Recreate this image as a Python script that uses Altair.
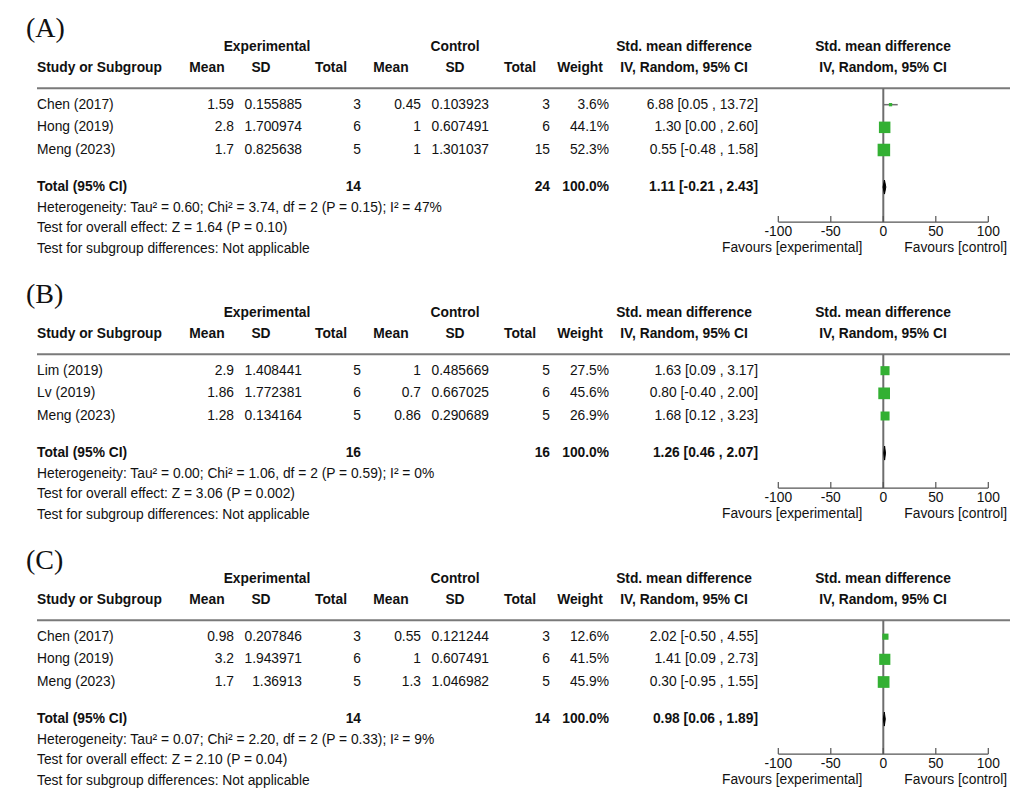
import altair as alt
import pandas as pd

# ---------------- data ----------------
panel_labels = ["(A)", "(B)", "(C)"]

studies = [
    ["Chen (2017)", "Hong (2019)", "Meng (2023)"],
    ["Lim (2019)", "Lv (2019)", "Meng (2023)"],
    ["Chen (2017)", "Hong (2019)", "Meng (2023)"],
]
exp_mean = [[1.59, 2.8, 1.7], [2.9, 1.86, 1.28], [0.98, 3.2, 1.7]]
exp_sd = [[0.155885, 1.700974, 0.825638], [1.408441, 1.772381, 0.134164], [0.207846, 1.943971, 1.36913]]
exp_n = [[3, 6, 5], [5, 6, 5], [3, 6, 5]]
ctl_mean = [[0.45, 1, 1], [1, 0.7, 0.86], [0.55, 1, 1.3]]
ctl_sd = [[0.103923, 0.607491, 1.301037], [0.485669, 0.667025, 0.290689], [0.121244, 0.607491, 1.046982]]
ctl_n = [[3, 6, 15], [5, 6, 5], [3, 6, 5]]
weight = [[3.6, 44.1, 52.3], [27.5, 45.6, 26.9], [12.6, 41.5, 45.9]]
smd = [[6.88, 1.30, 0.55], [1.63, 0.80, 1.68], [2.02, 1.41, 0.30]]
smd_lo = [[0.05, 0.00, -0.48], [0.09, -0.40, 0.12], [-0.50, 0.09, -0.95]]
smd_hi = [[13.72, 2.60, 1.58], [3.17, 2.00, 3.23], [4.55, 2.73, 1.55]]

tot_exp_n = [14, 16, 14]
tot_ctl_n = [24, 16, 14]
tot_smd = [1.11, 1.26, 0.98]
tot_lo = [-0.21, 0.46, 0.06]
tot_hi = [2.43, 2.07, 1.89]
heterogeneity = [
    "Heterogeneity: Tau\u00b2 = 0.60; Chi\u00b2 = 3.74, df = 2 (P = 0.15); I\u00b2 = 47%",
    "Heterogeneity: Tau\u00b2 = 0.00; Chi\u00b2 = 1.06, df = 2 (P = 0.59); I\u00b2 = 0%",
    "Heterogeneity: Tau\u00b2 = 0.07; Chi\u00b2 = 2.20, df = 2 (P = 0.33); I\u00b2 = 9%",
]
overall = [
    "Test for overall effect: Z = 1.64 (P = 0.10)",
    "Test for overall effect: Z = 3.06 (P = 0.002)",
    "Test for overall effect: Z = 2.10 (P = 0.04)",
]
subgroup_txt = "Test for subgroup differences: Not applicable"
axis_ticks = [-100, -50, 0, 50, 100]

# ---------------- layout / style ----------------
FONT = "Liberation Sans"
FS = 13.8
TXT = "#111111"
GREEN = "#33b033"
U = 20.6                      # px per table row unit
YMIN = -1.893
PANEL_H = 246
YMAX = YMIN + PANEL_H / U
W = 1003

yscale = alt.Scale(domain=[YMIN, YMAX], reverse=True, nice=False, zero=False)
xscale = alt.Scale(domain=[-100, 100], range=[770.3, 980.3], nice=False, zero=False)

STUDY_ROWS = [2.8, 3.9, 5.0]
ROW_G, ROW_H, ROW_LINE, ROW_TOT = 0, 1, 2, 6.8
ROW_FOOT = [7.8, 8.8, 9.8]
ROW_AXIS, ROW_TICKLAB, ROW_FAV = 8.5, 9.0, 9.76


def fmt(v):
    return str(v)


def ci(e, lo, hi):
    return f"{e:.2f} [{lo:.2f} , {hi:.2f}]"


def txt_layer(rows, texts, x, align="left", bold=False, font=FONT, size=FS):
    df = pd.DataFrame({"row": rows, "t": texts})
    return alt.Chart(df).mark_text(
        align=align, baseline="middle", font=font, fontSize=size,
        fontWeight="bold" if bold else "normal", color=TXT
    ).encode(
        x=alt.value(x),
        y=alt.Y("row:Q", scale=yscale, axis=None),
        text="t:N",
    )


def make_panel(i):
    L = []
    # panel label
    L.append(txt_layer([-0.85], [panel_labels[i]], 18, "left",
                       font="Liberation Serif", size=28))
    # group headers
    L.append(txt_layer([ROW_G], ["Experimental"], 259, "center", True))
    L.append(txt_layer([ROW_G], ["Control"], 447, "center", True))
    L.append(txt_layer([ROW_G], ["Std. mean difference"], 676, "center", True))
    L.append(txt_layer([ROW_G], ["Std. mean difference"], 875, "center", True))
    # column headers
    L.append(txt_layer([ROW_H], ["Study or Subgroup"], 29, "left", True))
    for lab, x in [("Mean", 199), ("SD", 253), ("Total", 323), ("Mean", 383),
                   ("SD", 447), ("Total", 512), ("Weight", 572),
                   ("IV, Random, 95% CI", 676), ("IV, Random, 95% CI", 875)]:
        L.append(txt_layer([ROW_H], [lab], x, "center", True))
    # header rule
    L.append(alt.Chart(pd.DataFrame({"row": [ROW_LINE]})).mark_rule(
        color="#7a7a7a", strokeWidth=2).encode(
        x=alt.value(29), x2=alt.value(1002),
        y=alt.Y("row:Q", scale=yscale, axis=None)))
    # study rows
    L.append(txt_layer(STUDY_ROWS, studies[i], 29, "left"))
    L.append(txt_layer(STUDY_ROWS, [fmt(v) for v in exp_mean[i]], 226, "right"))
    L.append(txt_layer(STUDY_ROWS, [fmt(v) for v in exp_sd[i]], 294, "right"))
    L.append(txt_layer(STUDY_ROWS, [fmt(v) for v in exp_n[i]], 353, "right"))
    L.append(txt_layer(STUDY_ROWS, [fmt(v) for v in ctl_mean[i]], 413, "right"))
    L.append(txt_layer(STUDY_ROWS, [fmt(v) for v in ctl_sd[i]], 481, "right"))
    L.append(txt_layer(STUDY_ROWS, [fmt(v) for v in ctl_n[i]], 542, "right"))
    L.append(txt_layer(STUDY_ROWS, [f"{w:.1f}%" for w in weight[i]], 601, "right"))
    L.append(txt_layer(STUDY_ROWS, [ci(e, lo, hi) for e, lo, hi in
                                    zip(smd[i], smd_lo[i], smd_hi[i])], 750, "right"))
    # total row
    L.append(txt_layer([ROW_TOT], ["Total (95% CI)"], 29, "left", True))
    L.append(txt_layer([ROW_TOT], [fmt(tot_exp_n[i])], 353, "right", True))
    L.append(txt_layer([ROW_TOT], [fmt(tot_ctl_n[i])], 542, "right", True))
    L.append(txt_layer([ROW_TOT], [f"{sum(weight[i]):.1f}%"], 601, "right", True))
    L.append(txt_layer([ROW_TOT], [ci(tot_smd[i], tot_lo[i], tot_hi[i])], 750, "right", True))
    # footer
    L.append(txt_layer(ROW_FOOT, [heterogeneity[i], overall[i], subgroup_txt], 29, "left"))

    # ---- forest plot ----
    X = lambda f: alt.X(f, scale=xscale, axis=None)
    Y = lambda f: alt.Y(f, scale=yscale, axis=None)
    zero = pd.DataFrame({"x": [0], "y": [ROW_LINE], "y2": [ROW_AXIS]})
    L.append(alt.Chart(zero).mark_rule(color="#6e6e6e", strokeWidth=2).encode(
        x=X("x:Q"), y=Y("y:Q"), y2="y2:Q"))
    axl = pd.DataFrame({"x": [min(axis_ticks)], "x2": [max(axis_ticks)], "y": [ROW_AXIS]})
    L.append(alt.Chart(axl).mark_rule(color="#555555", strokeWidth=1.2).encode(
        x=X("x:Q"), x2="x2:Q", y=Y("y:Q")))
    tk = pd.DataFrame({"x": axis_ticks, "y": [ROW_AXIS - 0.29] * 5, "y2": [ROW_AXIS] * 5,
                       "lab": [str(t) for t in axis_ticks], "yl": [ROW_TICKLAB] * 5})
    L.append(alt.Chart(tk).mark_rule(color="#555555", strokeWidth=1.2).encode(
        x=X("x:Q"), y=Y("y:Q"), y2="y2:Q"))
    L.append(alt.Chart(tk).mark_text(font=FONT, fontSize=FS, color=TXT,
                                     baseline="middle", align="center").encode(
        x=X("x:Q"), y=Y("yl:Q"), text="lab:N"))
    fav = pd.DataFrame({"x": [-20, 20], "y": [ROW_FAV] * 2,
                        "t": ["Favours [experimental]", "Favours [control]"],
                        "a": ["right", "left"]})
    L.append(alt.Chart(fav[fav.a == "right"]).mark_text(
        font=FONT, fontSize=FS, color=TXT, align="right", baseline="middle").encode(
        x=X("x:Q"), y=Y("y:Q"), text="t:N"))
    L.append(alt.Chart(fav[fav.a == "left"]).mark_text(
        font=FONT, fontSize=FS, color=TXT, align="left", baseline="middle").encode(
        x=X("x:Q"), y=Y("y:Q"), text="t:N"))
    sd = pd.DataFrame({"row": STUDY_ROWS, "est": smd[i], "lo": smd_lo[i],
                       "hi": smd_hi[i], "w": weight[i]})
    L.append(alt.Chart(sd).mark_rule(color="#707070", strokeWidth=1.5).encode(
        x=X("lo:Q"), x2="hi:Q", y=Y("row:Q")))
    L.append(alt.Chart(sd).transform_calculate(sz="datum.w * 3.0").mark_square(
        color=GREEN, opacity=1, filled=True).encode(
        x=X("est:Q"), y=Y("row:Q"), size=alt.Size("sz:Q", scale=None, legend=None)))
    dm = pd.DataFrame({"x": [tot_lo[i], tot_smd[i], tot_hi[i]],
                       "y": [ROW_TOT, ROW_TOT - 0.34, ROW_TOT],
                       "y2": [ROW_TOT, ROW_TOT + 0.34, ROW_TOT]})
    L.append(alt.Chart(dm).mark_area(color="#000000", opacity=1, stroke="#000000",
                                     strokeWidth=1).encode(
        x=X("x:Q"), y=Y("y:Q"), y2="y2:Q"))

    return alt.layer(*L).properties(width=W, height=PANEL_H)


chart = alt.vconcat(*[make_panel(i) for i in range(3)], spacing=20, bounds="flush").properties(
    padding=0
).configure_view(stroke=None)

chart.save("out.html", embed_options={"renderer": "svg", "actions": False})
